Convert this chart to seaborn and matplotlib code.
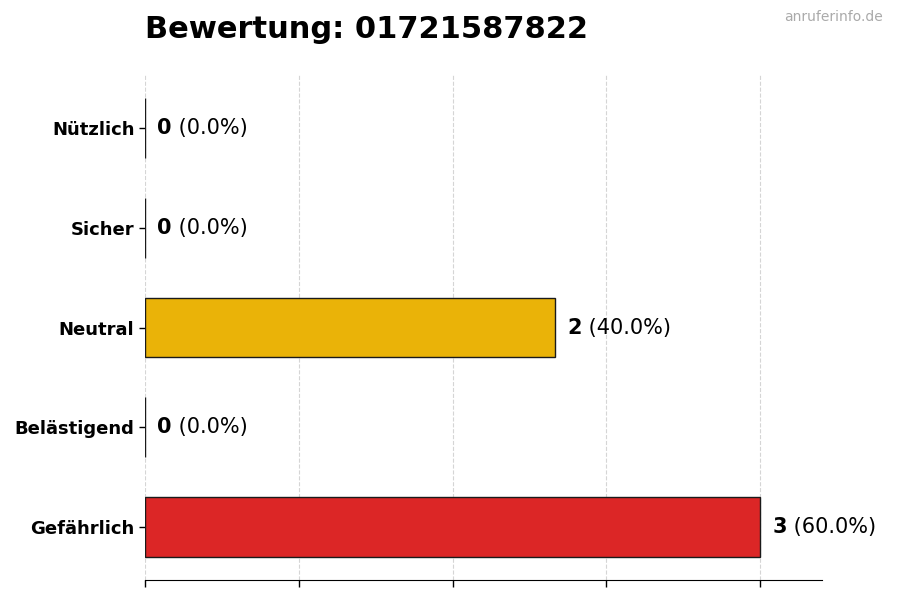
import matplotlib
matplotlib.use("Agg")
import matplotlib.pyplot as plt
import seaborn as sns
import pandas as pd

categories = ["Nützlich", "Sicher", "Neutral", "Belästigend", "Gefährlich"]
counts = [0, 0, 2, 0, 3]
colors = ["#16A34A", "#22C55E", "#EAB308", "#F97316", "#DC2626"]
title = "Bewertung: 01721587822"
watermark = "anruferinfo.de"

total = sum(counts)
df = pd.DataFrame({"cat": categories, "count": counts})

sns.set_style("white")
plt.rcParams['font.family'] = ['DejaVu Sans']
plt.rcParams['text.color'] = 'black'
plt.rcParams['ytick.color'] = 'black'
plt.rcParams['xtick.color'] = 'black'
plt.rcParams['ytick.labelcolor'] = 'black'

fig = plt.figure(figsize=(9, 6), dpi=100)
ax = fig.add_axes([0.161, 0.0333, 0.752, 0.8417])

sns.barplot(data=df, y="cat", x="count", hue="cat", palette=colors, legend=False,
            orient="h", width=0.6, edgecolor="#1a1a1a", linewidth=1.0, ax=ax, saturation=1)

mx = max(counts)
ax.set_xlim(0, mx * 1.1)
ax.set_ylim(len(categories) - 1 + 0.53, -0.53)
ax.set_xticks([mx * i / 4 for i in range(5)])
ax.set_xticklabels([])
ax.tick_params(axis="x", bottom=True, length=5, width=1, color="black")
ax.tick_params(axis="y", left=True, length=4, width=1, color="black")
ax.set_xlabel("")
ax.set_ylabel("")
for lab in ax.get_yticklabels():
    lab.set_fontweight("bold")
    lab.set_fontsize(13)
    lab.set_color("black")
ax.xaxis.grid(True, linestyle="--", color="#d5d5d5", linewidth=0.8)
ax.set_axisbelow(True)
for s in ["top", "right", "left"]:
    ax.spines[s].set_visible(False)
ax.spines["bottom"].set_color("black")

for i, c in enumerate(counts):
    pct = 100 * c / total if total else 0
    t1 = ax.text(c + mx * 0.02, i, f"{c}", fontsize=15, fontweight="bold", va="center", ha="left", color="black")
    ax.annotate(f" ({pct:.1f}%)", xy=(1, 0.5), xycoords=t1, fontsize=15, va="center", ha="left", color="black")

fig.text(0.161, 0.95, title, fontsize=22, fontweight="bold", ha="left", va="center", color="black")
fig.text(0.981, 0.972, watermark, fontsize=10, color="#aaaaaa", ha="right", va="center")

fig.savefig("out.png", dpi=100)
